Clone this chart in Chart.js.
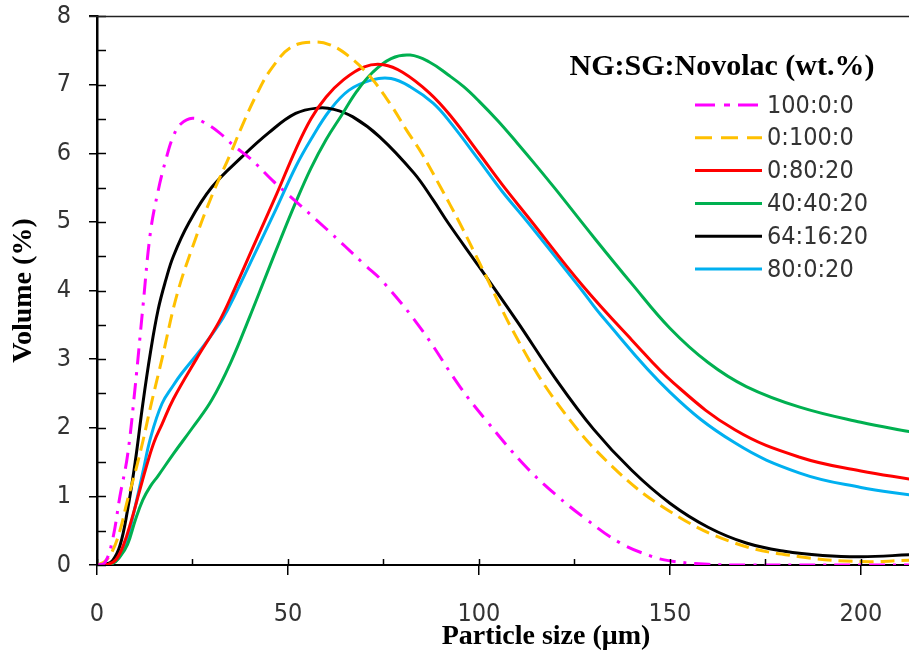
<!DOCTYPE html>
<html>
<head>
<meta charset="utf-8">
<script src="https://cdn.jsdelivr.net/npm/chart.js@4.4.1/dist/chart.umd.min.js"></script>
<style>
html,body{margin:0;padding:0;background:#fff;overflow:hidden;}
canvas{display:block;}
</style>
</head>
<body>
<canvas id="c" width="909" height="657"></canvas>
<script>
// ---- data (x = particle size µm, y = volume %) ----
const seriesLabels = ['100:0:0', '0:100:0', '0:80:20', '40:40:20', '64:16:20', '80:0:20'];

const s100_0_0 = [[0,0],[2,0.03],[4,0.35],[6,1.0],[8,1.6],[10,2.6],[12,3.75],[14,4.85],[16,5.45],[18,5.9],[20,6.25],[22,6.43],[25,6.51],[28,6.45],[32,6.3],[36,6.1],[40,5.93],[46,5.6],[50,5.4],[60,4.9],[70,4.38],[75,4.12],[85,3.43],[95,2.6],[102,2.1],[112,1.45],[120,1.03],[128,0.67],[137,0.32],[145,0.13],[150,0.06],[160,0.01],[170,0],[213,0]];

const s0_100_0 = [[0,0],[2,0.05],[4,0.2],[6,0.5],[8,0.95],[10,1.35],[12,1.8],[14,2.3],[17,3.0],[21,3.95],[25.7,4.74],[30,5.37],[35,6.0],[38,6.4],[42,6.88],[46,7.26],[51,7.55],[56.6,7.62],[61,7.58],[66,7.41],[71.6,7.11],[77,6.7],[81,6.34],[85,6.0],[90,5.5],[95,4.98],[100,4.42],[110,3.3],[121,2.32],[135,1.43],[150,0.78],[167,0.32],[184,0.12],[200,0.05],[213,0.07]];

const s0_80_20 = [[0,0],[3,0.01],[5,0.08],[7,0.3],[9,0.65],[11,1.05],[13,1.45],[15,1.8],[17,2.05],[20,2.42],[26,3.0],[32,3.55],[36,4.02],[41,4.65],[47,5.4],[52,6.05],[56,6.5],[60,6.82],[64.5,7.07],[70,7.26],[75,7.29],[80,7.18],[87,6.88],[92.5,6.55],[100,6.0],[106,5.55],[113,5.06],[127,4.08],[140,3.28],[151,2.65],[167,1.97],[184,1.57],[200,1.37],[213,1.25]];

const s40_40_20 = [[0,0],[4,0.02],[6,0.12],[8,0.3],[10,0.65],[12,0.95],[14,1.15],[16,1.3],[20,1.62],[25,2.0],[30,2.4],[35,2.95],[40,3.62],[44,4.18],[48,4.74],[52,5.28],[56,5.78],[60,6.2],[64,6.55],[68,6.9],[72,7.17],[77,7.38],[82,7.43],[87,7.33],[92,7.14],[96,6.97],[100,6.76],[105,6.47],[110,6.15],[115,5.82],[120,5.48],[130,4.78],[140,4.1],[150,3.45],[160,2.95],[170,2.6],[184,2.3],[200,2.08],[213,1.94]];

const s64_16_20 = [[0,0],[2,0.01],[4,0.06],[6,0.28],[8,0.8],[10,1.5],[12,2.35],[14,3.1],[16,3.72],[18,4.15],[20,4.5],[24,4.98],[30,5.5],[38,5.95],[45,6.3],[52,6.58],[58,6.66],[62,6.64],[67,6.53],[74,6.24],[83,5.71],[88,5.32],[92,4.98],[100,4.35],[110,3.55],[120,2.72],[130,1.98],[140,1.38],[150,0.9],[160,0.55],[170,0.32],[180,0.2],[190,0.14],[200,0.12],[213,0.15]];

const s80_0_20 = [[0,0],[3,0.01],[5,0.06],[7,0.22],[8,0.38],[10,0.85],[12,1.35],[14,1.85],[17,2.35],[20,2.62],[22,2.78],[28,3.2],[33,3.6],[36,3.92],[41,4.5],[47,5.2],[52,5.8],[56,6.2],[61,6.63],[66,6.92],[72,7.07],[77,7.09],[82,6.97],[88,6.73],[92.5,6.45],[100,5.9],[106,5.45],[113,4.98],[127,4.0],[132,3.64],[150,2.52],[167,1.78],[184,1.34],[200,1.13],[213,1.02]];

const seriesData = [s100_0_0, s0_100_0, s0_80_20, s40_40_20, s64_16_20, s80_0_20];

// ---- styles ----
const colors = ['#FF00FF', '#FFC000', '#FF0000', '#00B050', '#000000', '#00B0F0'];
const dashes = [[16,8,3,8], [14,7], [], [], [], []];
const legendDashes = [[20,9,6,8], [17,9], [], [], [], []];

const SANS = "'DejaVu Sans Condensed', 'DejaVu Sans', sans-serif";
const SERIF = "'Liberation Serif', 'Times New Roman', serif";

const decor = {
  id: 'decor',
  afterDraw(chart) {
    const {ctx, chartArea: a, scales: {x, y}} = chart;
    ctx.save();
    // inner tick marks (major and minor)
    ctx.strokeStyle = '#000';
    ctx.lineWidth = 1.5;
    for (let v = 0; v <= 8.001; v += 0.5) {
      const py = Math.round(y.getPixelForValue(v)) + 0.5;
      ctx.beginPath(); ctx.moveTo(a.left, py); ctx.lineTo(a.left + 9, py); ctx.stroke();
    }
    for (let v = 0; v <= x.max; v += 25) {
      const px = Math.round(x.getPixelForValue(v)) + 0.5;
      ctx.beginPath(); ctx.moveTo(px, a.bottom); ctx.lineTo(px, a.bottom - 6); ctx.stroke();
    }
    // top frame line
    ctx.strokeStyle = '#222';
    ctx.lineWidth = 1.5;
    ctx.beginPath(); ctx.moveTo(a.left - 8, a.top + 0.5); ctx.lineTo(a.right, a.top + 0.5); ctx.stroke();

    // x axis title
    ctx.fillStyle = '#000';
    ctx.font = 'bold 28px ' + SERIF;
    ctx.textAlign = 'center';
    ctx.textBaseline = 'middle';
    ctx.fillText('Particle size (\u03bcm)', 546, 637);

    // legend
    ctx.font = 'bold 30px ' + SERIF;
    ctx.fillText('NG:SG:Novolac (wt.%)', 722, 67);
    ctx.font = '25px ' + SANS;
    ctx.textAlign = 'left';
    chart.data.datasets.forEach((ds, i) => {
      const ry = 105 + i * 32.8;
      ctx.strokeStyle = ds.borderColor;
      ctx.lineWidth = 3;
      ctx.setLineDash(legendDashes[i]);
      ctx.beginPath(); ctx.moveTo(695, ry); ctx.lineTo(762, ry); ctx.stroke();
      ctx.setLineDash([]);
      ctx.fillStyle = '#333';
      ctx.fillText(ds.label, 767, ry + 1);
    });
    ctx.restore();
  }
};

new Chart(document.getElementById('c'), {
  type: 'scatter',
  data: {
    datasets: seriesData.map((d, i) => ({
      label: seriesLabels[i],
      data: d.map(p => ({x: p[0], y: p[1]})),
      showLine: true,
      borderColor: colors[i],
      backgroundColor: colors[i],
      borderWidth: 3,
      borderDash: dashes[i],
      pointRadius: 0,
      tension: 0.4,
      fill: false
    }))
  },
  options: {
    responsive: false,
    animation: false,
    devicePixelRatio: 1,
    layout: {padding: {top: 16, right: 0, left: 0, bottom: 0}},
    plugins: {legend: {display: false}, tooltip: {enabled: false}},
    scales: {
      x: {
        type: 'linear', min: 0, max: 212.6,
        afterFit(s) { s.height = 92; s.paddingLeft = 0; s.paddingRight = 0; },
        border: {color: '#000', width: 2},
        grid: {drawOnChartArea: false, drawTicks: true, tickLength: 10, color: '#000', lineWidth: 1.5},
        ticks: {stepSize: 50, includeBounds: false, autoSkip: false, maxRotation: 0, padding: 24,
                color: '#333', font: {family: SANS, size: 25}},
        title: {display: false}
      },
      y: {
        type: 'linear', min: 0, max: 8,
        afterFit(s) { s.width = 97; s.paddingTop = 0; s.paddingBottom = 0; },
        border: {color: '#000', width: 2.5},
        grid: {drawOnChartArea: false, drawTicks: true, tickLength: 8, color: '#000', lineWidth: 1.5},
        ticks: {stepSize: 1, padding: 18, color: '#333', font: {family: SANS, size: 25}},
        title: {display: true, text: 'Volume (%)', color: '#000', padding: {top: 7, bottom: 0},
                font: {family: SERIF, size: 28, weight: 'bold'}}
      }
    }
  },
  plugins: [decor]
});
</script>
</body>
</html>
